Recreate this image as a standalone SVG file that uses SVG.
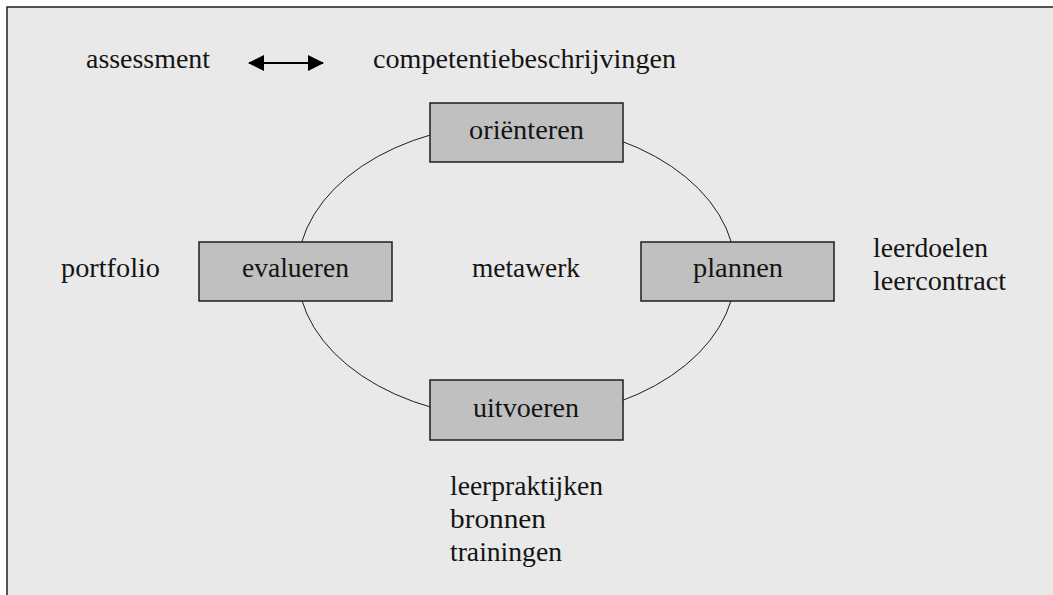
<svg xmlns="http://www.w3.org/2000/svg" width="1053" height="595" viewBox="0 0 1053 595">
  <style>
    .lbl { font-family: "Liberation Serif", "Times New Roman", serif; font-size: 27px; fill: #141414; }
    .box { fill: #c0c0c0; stroke: #1e1e1e; stroke-width: 1.5; }
    .cycle { fill: none; stroke: #1e1e1e; stroke-width: 1; }
  </style>
  <defs>
    <marker id="head" viewBox="0 0 16 16" refX="15" refY="8" markerWidth="16" markerHeight="16" markerUnits="userSpaceOnUse" orient="auto-start-reverse">
      <path d="M0,0 L16,8 L0,16 Z" fill="#000"/>
    </marker>
  </defs>

  <!-- page background and frame -->
  <rect x="0" y="0" width="1053" height="595" fill="#ffffff"/>
  <rect x="7" y="7" width="1046" height="588" fill="#e9e9e9"/>
  <path d="M7,595 L7,7 L1053,7" fill="none" stroke="#1e1e1e" stroke-width="1.5"/>

  <!-- connectors -->
  <g id="connectors">
    <ellipse class="cycle" cx="516.5" cy="271" rx="219" ry="148"/>
    <line x1="249" y1="63" x2="323" y2="63" stroke="#000" stroke-width="2.2" marker-start="url(#head)" marker-end="url(#head)"/>
  </g>

  <!-- cycle steps -->
  <g id="orienteren">
    <rect class="box" x="430" y="103" width="193" height="59"/>
    <text class="lbl" x="469" y="139" textLength="115" lengthAdjust="spacingAndGlyphs">oriënteren</text>
  </g>
  <g id="plannen">
    <rect class="box" x="641" y="242" width="193" height="59"/>
    <text class="lbl" x="693" y="277" textLength="90" lengthAdjust="spacingAndGlyphs">plannen</text>
  </g>
  <g id="uitvoeren">
    <rect class="box" x="430" y="380" width="193" height="60"/>
    <text class="lbl" x="473" y="416.5" textLength="106" lengthAdjust="spacingAndGlyphs">uitvoeren</text>
  </g>
  <g id="evalueren">
    <rect class="box" x="199" y="242" width="193" height="59"/>
    <text class="lbl" x="242" y="277" textLength="107" lengthAdjust="spacingAndGlyphs">evalueren</text>
  </g>

  <!-- centre and side annotations -->
  <g id="metawerk">
    <text class="lbl" x="472" y="277" textLength="108" lengthAdjust="spacingAndGlyphs">metawerk</text>
  </g>
  <g id="assessment">
    <text class="lbl" x="86" y="68" textLength="124" lengthAdjust="spacingAndGlyphs">assessment</text>
  </g>
  <g id="competentiebeschrijvingen">
    <text class="lbl" x="373" y="67.5" textLength="303" lengthAdjust="spacingAndGlyphs">competentiebeschrijvingen</text>
  </g>
  <g id="portfolio">
    <text class="lbl" x="61" y="277" textLength="99" lengthAdjust="spacingAndGlyphs">portfolio</text>
  </g>
  <g id="planning-items">
    <text class="lbl" x="873" y="256.5" textLength="115" lengthAdjust="spacingAndGlyphs">leerdoelen</text>
    <text class="lbl" x="873" y="290" textLength="133" lengthAdjust="spacingAndGlyphs">leercontract</text>
  </g>
  <g id="execution-items">
    <text class="lbl" x="450" y="495" textLength="153" lengthAdjust="spacingAndGlyphs">leerpraktijken</text>
    <text class="lbl" x="450" y="528" textLength="96" lengthAdjust="spacingAndGlyphs">bronnen</text>
    <text class="lbl" x="450" y="561" textLength="112" lengthAdjust="spacingAndGlyphs">trainingen</text>
  </g>
</svg>
